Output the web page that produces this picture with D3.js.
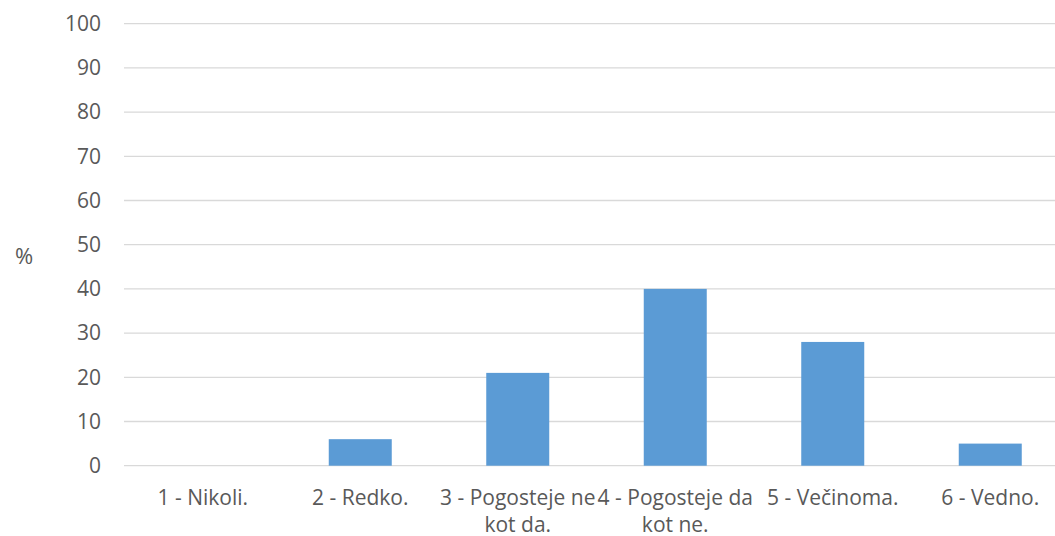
<!DOCTYPE html>
<html>
<head>
<meta charset="utf-8">
<script src="https://cdn.jsdelivr.net/npm/d3@7"></script>
<style>
  body { margin: 0; background: #fff; }
  text { font-family: "Open Sans", sans-serif; fill: #595959; }
</style>
</head>
<body>
<div id="chart"></div>
<script>
var categories = ['1 - Nikoli.', '2 - Redko.', '3 - Pogosteje ne kot da.', '4 - Pogosteje da kot ne.', '5 - Večinoma.', '6 - Vedno.'],
    values = [0, 6, 21, 40, 28, 5],
    yTicks = [0, 10, 20, 30, 40, 50, 60, 70, 80, 90, 100],
    yLabel = '%';

var chartW = 1055, chartH = 536,
    plotLeft = 124, plotRight = 1069, plotTop = 23.7, plotBottom = 465.7,
    fontSize = 21;

var svg = d3.select('#chart').append('svg')
    .attr('width', chartW)
    .attr('height', chartH);

var x = d3.scaleBand()
    .domain(categories)
    .range([plotLeft, plotRight])
    .paddingInner(0.6)
    .paddingOuter(0.3);

var y = d3.scaleLinear()
    .domain([0, 100])
    .range([plotBottom, plotTop]);

// Gridlines
svg.append('g')
    .selectAll('line')
    .data(yTicks)
    .enter().append('line')
    .attr('x1', plotLeft)
    .attr('x2', plotRight)
    .attr('y1', d => y(d))
    .attr('y2', d => y(d))
    .attr('stroke', '#d9d9d9')
    .attr('stroke-width', 1.3);

// Y axis labels
let yAxis = svg.append('g')
    .attr('transform', 'translate(101,0)')
    .call(d3.axisLeft(y).tickValues(yTicks).tickSize(0).tickPadding(0));
yAxis.select('.domain').remove();
yAxis.selectAll('text')
    .attr('font-size', fontSize)
    .style('font-family', '"Open Sans", sans-serif')
    .attr('fill', '#595959');

svg.append('text')
    .attr('x', 24)
    .attr('y', 258)
    .attr('text-anchor', 'middle')
    .attr('dominant-baseline', 'middle')
    .attr('font-size', fontSize + 1)
    .text(yLabel);

// Bars
svg.append('g')
    .selectAll('rect')
    .data(values)
    .enter().append('rect')
    .attr('x', (d, i) => x(categories[i]))
    .attr('width', x.bandwidth())
    .attr('y', d => y(d))
    .attr('height', d => y(0) - y(d))
    .attr('fill', '#5b9bd5');

// Category labels, wrapped to the band step
let step = x.step();
let labels = svg.append('g')
    .selectAll('text')
    .data(categories)
    .enter().append('text')
    .attr('text-anchor', 'middle')
    .attr('font-size', fontSize)
    .attr('x', d => x(d) + x.bandwidth() / 2)
    .attr('y', 505);

labels.each(function (d) {
    let el = d3.select(this),
        cx = +el.attr('x'),
        words = d.split(' '),
        line = [],
        lines = [];
    let probe = el.append('tspan');
    words.forEach(w => {
        line.push(w);
        probe.text(line.join(' '));
        if (probe.node().getComputedTextLength() > step + 4 && line.length > 1) {
            line.pop();
            lines.push(line.join(' '));
            line = [w];
        }
    });
    lines.push(line.join(' '));
    probe.remove();
    lines.forEach((l, i) => {
        el.append('tspan')
            .attr('x', cx)
            .attr('dy', i === 0 ? 0 : 27)
            .text(l);
    });
});
</script>
</body>
</html>
